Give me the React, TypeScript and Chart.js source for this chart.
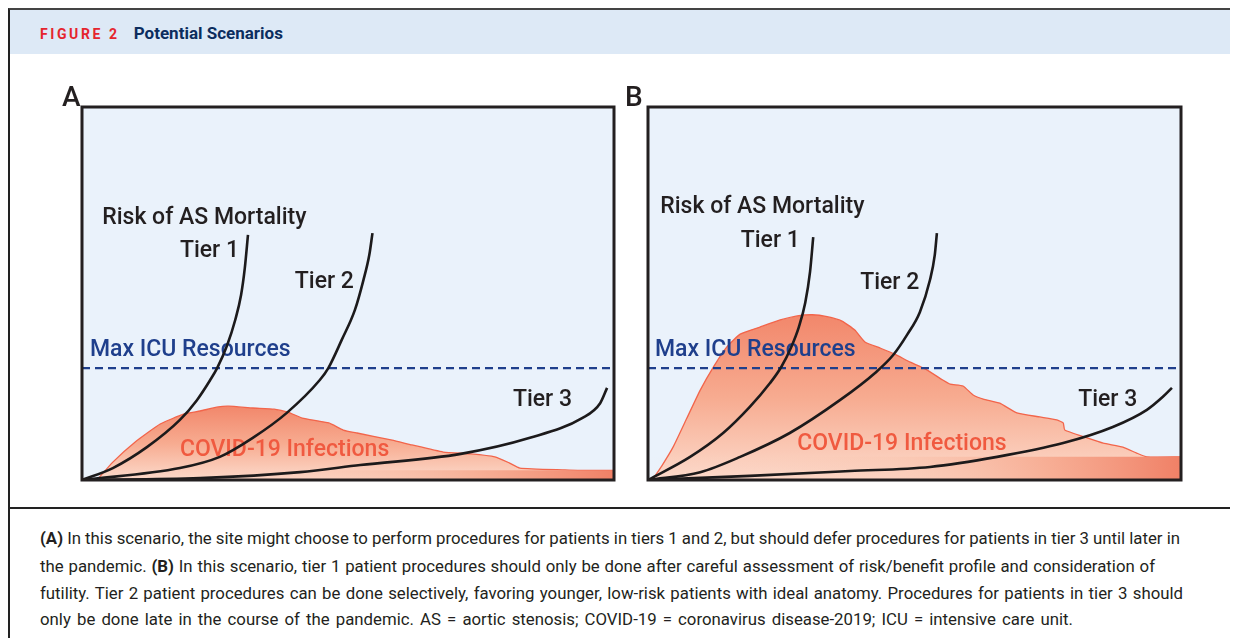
import React, { useEffect, useLayoutEffect, useRef } from "react";
import { Chart, registerables } from "chart.js";

Chart.register(...registerables);

// ---------- Panel A data (x: % of time axis, y: % of height) ----------
const tier1AX = [0, 5.8, 12.2, 18.4, 21.6, 24.1, 25.4, 27.3, 28.8, 29.9, 30.6, 31.2];
const tier1AY = [0, 3.2, 8.8, 16.1, 21.4, 26.8, 30.0, 36.2, 42.9, 49.6, 56.8, 65.7];
const tier2AX = [0, 18.4, 25.9, 32.1, 38.5, 44.7, 46.3, 48.8, 51.3, 52.9, 54.0, 54.6];
const tier2AY = [0, 3.2, 6.2, 11.3, 18.0, 26.8, 30.0, 37.5, 45.6, 53.6, 60.3, 66.2];
const tier3AX = [0, 22.2, 41.0, 52.3, 71.2, 84.2, 94.0, 97.4, 98.7];
const tier3AY = [0, 0.5, 2.1, 4.0, 7.0, 11.3, 16.6, 20.6, 24.7];
const covidAX = [2.8, 5.8, 10.0, 14.7, 19.2, 22.2, 25.6, 27.6, 32.1, 36.1, 38.7, 41.4, 46.4, 49.1, 51.7, 58.3, 62.0, 67.9, 73.1, 77.6, 80.3, 82.3, 90.8, 93.2, 100];
const covidAY = [0, 4.8, 10.2, 15.0, 17.7, 18.5, 19.6, 19.8, 19.3, 19.0, 18.2, 16.6, 15.3, 13.4, 12.6, 10.7, 9.4, 7.5, 7.0, 6.2, 4.6, 3.2, 2.7, 2.6, 2.6];
const floorAY = [2.6, 2.6];

// ---------- Panel B data ----------
const tier1BX = [0, 7.9, 14.1, 19.1, 22.9, 25.0, 26.8, 28.3, 29.5, 30.4, 31.0];
const tier1BY = [0, 6.2, 12.6, 19.6, 26.0, 30.3, 35.4, 41.0, 47.5, 55.8, 65.1];
const tier2BX = [0, 9.8, 17.3, 26.6, 36.0, 42.6, 46.0, 48.6, 51.0, 52.9, 53.8, 54.2];
const tier2BY = [0, 2.1, 6.2, 12.6, 21.4, 28.7, 33.5, 38.9, 45.0, 53.6, 60.3, 66.2];
const tier3BX = [0, 19.1, 37.9, 52.9, 65.5, 77.9, 87.2, 93.6, 96.6, 98.3];
const tier3BY = [0, 1.1, 2.4, 3.5, 6.2, 9.9, 14.2, 18.8, 22.3, 24.7];
const covidBX = [0.8, 2.6, 4.7, 7.3, 9.8, 12.4, 14.8, 17.3, 21.0, 24.8, 28.0, 30.8, 33.6, 36.4, 38.8, 40.7, 43.5, 46.2, 49.2, 52.0, 55.3, 56.7, 59.1, 61.0, 62.9, 66.0, 69.2, 73.5, 76.7, 77.9, 78.2, 82.4, 85.4, 89.1, 91.7, 93.6, 100];
const covidBY = [0, 3.8, 8.8, 16.6, 24.1, 30.6, 35.7, 39.1, 41.0, 42.9, 44.0, 44.3, 43.8, 42.6, 40.2, 37.0, 35.4, 33.8, 31.6, 29.8, 26.8, 25.7, 25.2, 22.8, 21.7, 20.6, 18.0, 16.9, 16.1, 15.3, 13.4, 11.3, 9.9, 8.8, 7.2, 6.2, 6.2];
const floorBY = [6.2, 6.2];

// ---------- Shared ----------
const icuX = [0, 100];
const icuY = [30, 30];
const floorX = [0, 100];

const captionA = " In this scenario, the site might choose to perform procedures for patients in tiers 1 and 2, but should defer procedures for patients in tier 3 until later in";
const captionB1 = "the pandemic. ";
const captionB2 = " In this scenario, tier 1 patient procedures should only be done after careful assessment of risk/benefit profile and consideration of";
const captionL3 = "futility. Tier 2 patient procedures can be done selectively, favoring younger, low-risk patients with ideal anatomy. Procedures for patients in tier 3 should";
const captionL4 = "only be done late in the course of the pandemic. AS = aortic stenosis; COVID-19 = coronavirus disease-2019; ICU = intensive care unit.";
const captionRightEdges = [1180, 1155, 1183, 1073];

const zip = (xs: number[], ys: number[]) => xs.map((x, i) => ({ x, y: ys[i] }));

const INK = "#231f20";
const NAVY = "#1f3f8c";
const SALMON_LINE = "#f2654b";
const FONT = "Roboto, 'Open Sans', sans-serif";

type Label = { text: string; x: number; y: number; color: string };

type PanelCfg = {
  letter: string;
  letterDx: number;
  width: number;
  height: number;
  padding: { left: number; right: number; top: number; bottom: number };
  tiers: { x: number[]; y: number[] }[];
  covidX: number[];
  covidY: number[];
  floorY: number[];
  labels: Label[];
};

function makePlugin(cfg: PanelCfg) {
  return {
    id: "panelDecor" + cfg.letter,
    beforeDatasetsDraw(chart: any) {
      const { ctx, chartArea: a } = chart;
      ctx.save();
      ctx.fillStyle = "#eaf2fb";
      ctx.fillRect(a.left, a.top, a.right - a.left, a.bottom - a.top);
      ctx.restore();
    },
    afterDatasetDraw(chart: any, args: any) {
      if (args.index !== 4) return;
      const { ctx, scales } = chart;
      ctx.save();
      ctx.font = `500 23px ${FONT}`;
      ctx.textBaseline = "middle";
      ctx.textAlign = "left";
      for (const l of cfg.labels) {
        ctx.fillStyle = l.color;
        ctx.fillText(l.text, scales.x.getPixelForValue(l.x), scales.y.getPixelForValue(l.y));
      }
      ctx.restore();
    },
    afterDraw(chart: any) {
      const { ctx, chartArea: a } = chart;
      ctx.save();
      ctx.strokeStyle = INK;
      ctx.lineWidth = 3;
      ctx.strokeRect(a.left, a.top, a.right - a.left, a.bottom - a.top);
      ctx.fillStyle = INK;
      ctx.font = `500 28px ${FONT}`;
      ctx.textBaseline = "alphabetic";
      ctx.textAlign = "left";
      ctx.fillText(cfg.letter, a.left + cfg.letterDx, a.top - 1);
      ctx.restore();
    },
  };
}

function Panel({ cfg, style }: { cfg: PanelCfg; style: React.CSSProperties }) {
  const ref = useRef<HTMLCanvasElement | null>(null);
  useEffect(() => {
    if (!ref.current) return;
    const maxCovid = Math.max(...cfg.covidY);
    const tierSets = cfg.tiers.map((t, i) => ({
      label: "Tier " + (i + 1),
      data: zip(t.x, t.y),
      borderColor: "#1c1a1b",
      borderWidth: 2.6,
      pointRadius: 0,
      fill: false,
      cubicInterpolationMode: "monotone" as const,
    }));
    const chart = new Chart(ref.current, {
      type: "line",
      data: {
        datasets: [
          ...tierSets,
          {
            label: "Max ICU Resources",
            data: zip(icuX, icuY),
            borderColor: NAVY,
            borderWidth: 2.4,
            borderDash: [8, 5],
            pointRadius: 0,
            fill: false,
          },
          {
            label: "floor",
            data: zip(floorX, cfg.floorY),
            borderWidth: 0,
            borderColor: "rgba(0,0,0,0)",
            pointRadius: 0,
            fill: "origin",
            backgroundColor: (c: any) => {
              const a = c.chart.chartArea;
              if (!a) return "rgba(0,0,0,0)";
              const g = c.chart.ctx.createLinearGradient(a.left, 0, a.right, 0);
              g.addColorStop(0, "rgba(252,214,198,0)");
              g.addColorStop(0.45, "rgba(249,196,174,0.35)");
              g.addColorStop(0.75, "rgba(246,165,138,0.8)");
              g.addColorStop(1, "rgba(240,128,102,1)");
              return g;
            },
          },
          {
            label: "COVID-19 Infections",
            data: zip(cfg.covidX, cfg.covidY),
            borderColor: SALMON_LINE,
            borderWidth: 1.3,
            pointRadius: 0,
            tension: 0.15,
            fill: "origin",
            backgroundColor: (c: any) => {
              const a = c.chart.chartArea;
              const ys = c.chart.scales.y;
              if (!a || !ys) return "rgba(242,134,106,0.8)";
              const top = ys.getPixelForValue(maxCovid);
              const g = c.chart.ctx.createLinearGradient(0, top, 0, a.bottom);
              g.addColorStop(0, "#f2876b");
              g.addColorStop(0.5, "#f7ab90");
              g.addColorStop(1, "#fcdacb");
              return g;
            },
          },
        ],
      },
      options: {
        animation: false,
        responsive: false,
        events: [],
        layout: { padding: cfg.padding },
        scales: {
          x: { type: "linear", min: 0, max: 100, display: false },
          y: { type: "linear", min: 0, max: 100, display: false },
        },
        plugins: { legend: { display: false }, tooltip: { enabled: false } },
      },
      plugins: [makePlugin(cfg)],
    });
    return () => chart.destroy();
  }, [cfg]);
  return (
    <canvas
      ref={ref}
      width={cfg.width}
      height={cfg.height}
      style={{ position: "absolute", width: cfg.width, height: cfg.height, ...style }}
    />
  );
}

const panelA: PanelCfg = {
  letter: "A",
  letterDx: -20,
  width: 568,
  height: 415,
  padding: { left: 32, right: 4, top: 32, bottom: 10 },
  tiers: [
    { x: tier1AX, y: tier1AY },
    { x: tier2AX, y: tier2AY },
    { x: tier3AX, y: tier3AY },
  ],
  covidX: covidAX,
  covidY: covidAY,
  floorY: floorAY,
  labels: [
    { text: "Risk of AS Mortality", x: 3.8, y: 70.2, color: INK },
    { text: "Tier 1", x: 18.4, y: 61.4, color: INK },
    { text: "Tier 2", x: 40.0, y: 53.1, color: INK },
    { text: "Tier 3", x: 81.0, y: 21.4, color: INK },
    { text: "Max ICU Resources", x: 1.5, y: 34.9, color: NAVY },
    { text: "COVID-19 Infections", x: 18.4, y: 8.0, color: "#f05a40" },
  ],
};

const panelB: PanelCfg = {
  letter: "B",
  letterDx: -23,
  width: 582,
  height: 415,
  padding: { left: 30, right: 19, top: 32, bottom: 10 },
  tiers: [
    { x: tier1BX, y: tier1BY },
    { x: tier2BX, y: tier2BY },
    { x: tier3BX, y: tier3BY },
  ],
  covidX: covidBX,
  covidY: covidBY,
  floorY: floorBY,
  labels: [
    { text: "Risk of AS Mortality", x: 2.3, y: 73.2, color: INK },
    { text: "Tier 1", x: 17.4, y: 64.1, color: INK },
    { text: "Tier 2", x: 39.8, y: 52.8, color: INK },
    { text: "Tier 3", x: 80.7, y: 21.4, color: INK },
    { text: "Max ICU Resources", x: 1.3, y: 34.9, color: NAVY },
    { text: "COVID-19 Infections", x: 28.0, y: 9.7, color: "#f05a40" },
  ],
};

// page coordinate helper: container sits at page (8,8)
const P = (v: number) => v - 8;
const CAPTION_LEFT = 40;

export default function App() {
  const lineRefs = useRef<(HTMLDivElement | null)[]>([]);
  useLayoutEffect(() => {
    lineRefs.current.forEach((el, i) => {
      if (!el) return;
      el.style.wordSpacing = "0px";
      const w = el.getBoundingClientRect().width;
      const spaces = (el.textContent || "").split(" ").length - 1;
      const target = captionRightEdges[i] - CAPTION_LEFT;
      if (spaces > 0) el.style.wordSpacing = `${(target - w) / spaces}px`;
    });
  }, []);
  const captionStyle: React.CSSProperties = {
    position: "absolute",
    left: P(CAPTION_LEFT),
    whiteSpace: "nowrap",
    fontFamily: FONT,
    fontSize: 16.8,
    color: INK,
    lineHeight: "20px",
  };
  const setRef = (i: number) => (el: HTMLDivElement | null) => {
    lineRefs.current[i] = el;
  };
  return (
    <div style={{ position: "relative", width: 1227, height: 630, fontFamily: FONT }}>
      <div
        style={{
          position: "absolute",
          left: 0,
          top: 0,
          width: 1227,
          height: 640,
          boxSizing: "border-box",
          borderTop: "2px solid #444",
          borderLeft: "2px solid #222",
          borderRight: "2px solid #222",
        }}
      />
      <div style={{ position: "absolute", left: 2, top: 2, width: 1223, height: 44, background: "#dde9f6" }} />
      <div
        style={{
          position: "absolute",
          left: P(40),
          top: P(23),
          height: 20,
          lineHeight: "20px",
          whiteSpace: "nowrap",
          fontFamily: FONT,
        }}
      >
        <span style={{ color: "#e5252e", fontWeight: 700, fontSize: 14, letterSpacing: 2.6 }}>FIGURE 2</span>
        <span style={{ color: "#0c2d5e", fontWeight: 700, fontSize: 17, marginLeft: 14 }}>Potential Scenarios</span>
      </div>
      <Panel cfg={panelA} style={{ left: P(50), top: P(75) }} />
      <Panel cfg={panelB} style={{ left: P(618), top: P(75) }} />
      <div style={{ position: "absolute", left: 0, top: P(507), width: 1227, height: 2, background: "#222" }} />
      <div ref={setRef(0)} style={{ ...captionStyle, top: P(528) }}>
        <b>(A)</b>
        {captionA}
      </div>
      <div ref={setRef(1)} style={{ ...captionStyle, top: P(556) }}>
        {captionB1}
        <b>(B)</b>
        {captionB2}
      </div>
      <div ref={setRef(2)} style={{ ...captionStyle, top: P(583) }}>{captionL3}</div>
      <div ref={setRef(3)} style={{ ...captionStyle, top: P(609) }}>{captionL4}</div>
    </div>
  );
}
